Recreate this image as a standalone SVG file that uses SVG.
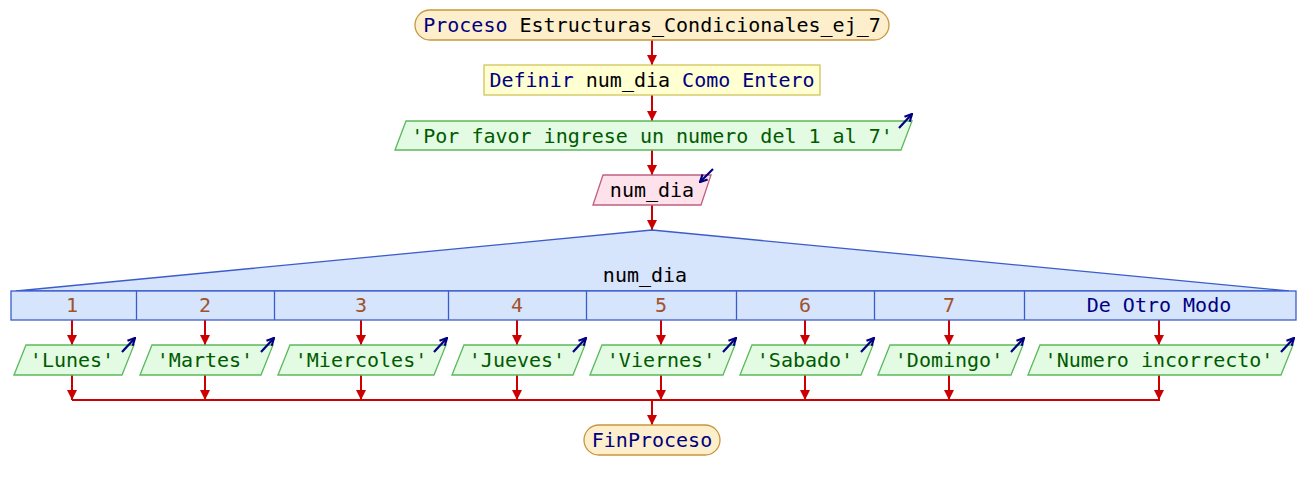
<svg xmlns="http://www.w3.org/2000/svg" width="1304" height="490" viewBox="0 0 1304 490">
<style>
text{font-family:"DejaVu Sans Mono","Liberation Mono",monospace;font-size:20px;text-anchor:middle}
.term{fill:#fdefcc;stroke:#c8963c;stroke-width:1.3}
.def{fill:#ffffd2;stroke:#d2c45a;stroke-width:1.3}
.out{fill:#e2fbe2;stroke:#5cb85c;stroke-width:1.3}
.inp{fill:#fde2ec;stroke:#c06080;stroke-width:1.3}
.sw{fill:#d6e4fc;stroke:#3d5ccc;stroke-width:1.3}
.kw{fill:#000080}
.blk{fill:#000}
.str{fill:#005a00}
.num{fill:#a0522d}
.con{stroke:#cc0000;stroke-width:2;fill:none}
.ico{stroke:#000080;stroke-width:2.2;fill:none}
</style>
<defs>
<marker id="ah" viewBox="0 0 10 10" refX="10" refY="5" markerWidth="10" markerHeight="10" markerUnits="userSpaceOnUse" orient="auto">
<path d="M0,0 L10,5 L0,10 Z" fill="#cc0000"/>
</marker>
<marker id="ih" viewBox="0 0 10 10" refX="9" refY="5" markerWidth="9" markerHeight="9" markerUnits="userSpaceOnUse" orient="auto">
<path d="M1,1 L9,5 L1,9" fill="none" stroke="#000080" stroke-width="2.4"/>
</marker>
</defs>

<g id="connectors">
<line class="con" x1="652" y1="40" x2="652" y2="65" marker-end="url(#ah)"/>
<line class="con" x1="652" y1="95" x2="652" y2="121" marker-end="url(#ah)"/>
<line class="con" x1="652" y1="150" x2="652" y2="175" marker-end="url(#ah)"/>
<line class="con" x1="652" y1="205" x2="652" y2="230" marker-end="url(#ah)"/>
<line class="con" x1="72" y1="320" x2="72" y2="345" marker-end="url(#ah)"/>
<line class="con" x1="205" y1="320" x2="205" y2="345" marker-end="url(#ah)"/>
<line class="con" x1="361" y1="320" x2="361" y2="345" marker-end="url(#ah)"/>
<line class="con" x1="517" y1="320" x2="517" y2="345" marker-end="url(#ah)"/>
<line class="con" x1="661" y1="320" x2="661" y2="345" marker-end="url(#ah)"/>
<line class="con" x1="805" y1="320" x2="805" y2="345" marker-end="url(#ah)"/>
<line class="con" x1="949" y1="320" x2="949" y2="345" marker-end="url(#ah)"/>
<line class="con" x1="1159" y1="320" x2="1159" y2="345" marker-end="url(#ah)"/>
<line class="con" x1="72" y1="375" x2="72" y2="400" marker-end="url(#ah)"/>
<line class="con" x1="205" y1="375" x2="205" y2="400" marker-end="url(#ah)"/>
<line class="con" x1="361" y1="375" x2="361" y2="400" marker-end="url(#ah)"/>
<line class="con" x1="517" y1="375" x2="517" y2="400" marker-end="url(#ah)"/>
<line class="con" x1="661" y1="375" x2="661" y2="400" marker-end="url(#ah)"/>
<line class="con" x1="805" y1="375" x2="805" y2="400" marker-end="url(#ah)"/>
<line class="con" x1="949" y1="375" x2="949" y2="400" marker-end="url(#ah)"/>
<line class="con" x1="1159" y1="375" x2="1159" y2="400" marker-end="url(#ah)"/>
<line class="con" x1="72" y1="400" x2="1160" y2="400"/>
<line class="con" x1="652" y1="400" x2="652" y2="425" marker-end="url(#ah)"/>
</g>

<g id="start">
<rect class="term" x="415" y="10" width="474" height="30" rx="15"/>
<text x="652" y="32"><tspan class="kw">Proceso</tspan><tspan class="blk"> Estructuras_Condicionales_ej_7</tspan></text>
</g>

<g id="define">
<rect class="def" x="484" y="65" width="336" height="30"/>
<text x="652" y="87"><tspan class="kw">Definir</tspan><tspan class="blk"> num_dia </tspan><tspan class="kw">Como Entero</tspan></text>
</g>

<g id="write_prompt">
<polygon class="out" points="395,150 406,121 912,121 901,150"/>
<text class="str" x="652" y="143">'Por favor ingrese un numero del 1 al 7'</text>
<line class="ico" x1="899" y1="128" x2="912" y2="114" marker-end="url(#ih)"/>
</g>

<g id="read_num">
<polygon class="inp" points="593,205 603,175 711,175 701,205"/>
<text class="blk" x="652" y="197">num_dia</text>
<line class="ico" x1="713" y1="169" x2="700" y2="182" marker-end="url(#ih)"/>
</g>

<g id="switch">
<polygon class="sw" points="16,291 652,230 1289,291"/>
<rect class="sw" x="11" y="291" width="1285" height="29"/>
<line class="sw" x1="136.5" y1="291" x2="136.5" y2="320"/>
<line class="sw" x1="274.5" y1="291" x2="274.5" y2="320"/>
<line class="sw" x1="448.5" y1="291" x2="448.5" y2="320"/>
<line class="sw" x1="586.5" y1="291" x2="586.5" y2="320"/>
<line class="sw" x1="736.5" y1="291" x2="736.5" y2="320"/>
<line class="sw" x1="874.5" y1="291" x2="874.5" y2="320"/>
<line class="sw" x1="1024.5" y1="291" x2="1024.5" y2="320"/>
<text class="blk" x="645" y="282">num_dia</text>
<text class="num" x="72" y="312">1</text>
<text class="num" x="205" y="312">2</text>
<text class="num" x="361" y="312">3</text>
<text class="num" x="517" y="312">4</text>
<text class="num" x="661" y="312">5</text>
<text class="num" x="805" y="312">6</text>
<text class="num" x="949" y="312">7</text>
<text class="kw" x="1159" y="312">De Otro Modo</text>
</g>

<g id="out_lunes">
<polygon class="out" points="14,375 26,345 134,345 122,375"/>
<text class="str" x="72" y="367">'Lunes'</text>
<line class="ico" x1="122" y1="352" x2="135" y2="338" marker-end="url(#ih)"/>
</g>
<g id="out_martes">
<polygon class="out" points="140,375 152,345 273,345 261,375"/>
<text class="str" x="205" y="367">'Martes'</text>
<line class="ico" x1="261" y1="352" x2="274" y2="338" marker-end="url(#ih)"/>
</g>
<g id="out_miercoles">
<polygon class="out" points="278,375 290,345 446,345 434,375"/>
<text class="str" x="361" y="367">'Miercoles'</text>
<line class="ico" x1="434" y1="352" x2="447" y2="338" marker-end="url(#ih)"/>
</g>
<g id="out_jueves">
<polygon class="out" points="452,375 464,345 585,345 573,375"/>
<text class="str" x="517" y="367">'Jueves'</text>
<line class="ico" x1="573" y1="352" x2="586" y2="338" marker-end="url(#ih)"/>
</g>
<g id="out_viernes">
<polygon class="out" points="590,375 602,345 735,345 723,375"/>
<text class="str" x="661" y="367">'Viernes'</text>
<line class="ico" x1="723" y1="352" x2="736" y2="338" marker-end="url(#ih)"/>
</g>
<g id="out_sabado">
<polygon class="out" points="740,375 752,345 873,345 861,375"/>
<text class="str" x="805" y="367">'Sabado'</text>
<line class="ico" x1="861" y1="352" x2="874" y2="338" marker-end="url(#ih)"/>
</g>
<g id="out_domingo">
<polygon class="out" points="878,375 890,345 1023,345 1011,375"/>
<text class="str" x="949" y="367">'Domingo'</text>
<line class="ico" x1="1011" y1="352" x2="1024" y2="338" marker-end="url(#ih)"/>
</g>
<g id="out_incorrecto">
<polygon class="out" points="1028,375 1040,345 1293,345 1281,375"/>
<text class="str" x="1159" y="367">'Numero incorrecto'</text>
<line class="ico" x1="1281" y1="352" x2="1294" y2="338" marker-end="url(#ih)"/>
</g>

<g id="end">
<rect class="term" x="584" y="425" width="136" height="30" rx="15"/>
<text class="kw" x="652" y="447">FinProceso</text>
</g>
</svg>
